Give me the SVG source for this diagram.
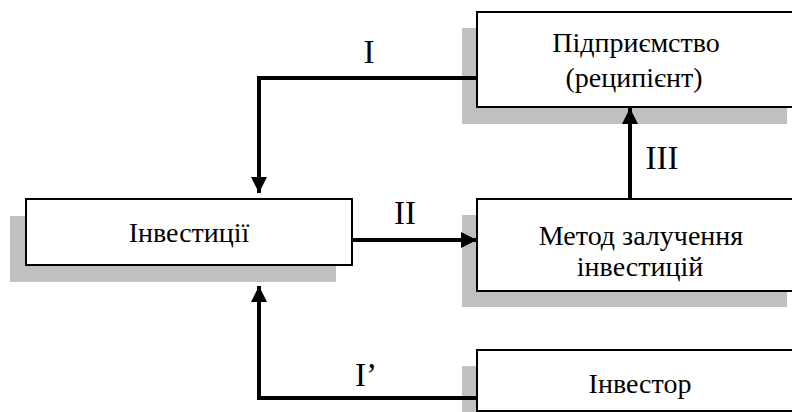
<svg xmlns="http://www.w3.org/2000/svg" width="792" height="412" viewBox="0 0 792 412">
  <defs>
    <style>
      .shadow { fill: #c0c0c0; }
      .box { fill: #ffffff; stroke: #000000; stroke-width: 2; }
      .conn { fill: none; stroke: #000000; stroke-width: 4; }
    </style>
    <marker id="arrow" viewBox="0 0 16 16" refX="16" refY="8" markerWidth="16" markerHeight="16" markerUnits="userSpaceOnUse" orient="auto">
      <path d="M0,0 L16,8 L0,16 Z" fill="#000000"/>
    </marker>
  </defs>
  <rect width="792" height="412" fill="#ffffff"/>

  <!-- Drop shadows behind the boxes -->
  <rect class="shadow" x="10" y="216" width="326" height="66"/>
  <rect class="shadow" x="462" y="28" width="325" height="96"/>
  <rect class="shadow" x="462" y="215" width="325" height="92"/>
  <rect class="shadow" x="462" y="366" width="325" height="50"/>

  <!-- Box captions stay at 28px, where the serif Cyrillic face is used -->
  <g font-family="'Liberation Serif', serif" font-size="28" fill="#000000" text-anchor="middle">
    <g id="connectors">
      <polyline class="conn" points="477,78 259,78 259,193" marker-end="url(#arrow)"/>
      <line class="conn" x1="352" y1="240" x2="477" y2="240" marker-end="url(#arrow)"/>
      <line class="conn" x1="630" y1="199" x2="630" y2="108" marker-end="url(#arrow)"/>
      <polyline class="conn" points="477,398 259,398 259,286" marker-end="url(#arrow)"/>
      <text x="369" y="63" font-size="33">I</text>
      <text x="405" y="224" font-size="33">II</text>
      <text x="662" y="169" font-size="33">III</text>
      <text x="366" y="386" font-size="33">I’</text>
    </g>

    <g id="investments">
      <rect class="box" x="26" y="199" width="326" height="66"/>
      <text x="189" y="242">Інвестиції</text>
    </g>

    <g id="enterprise">
      <rect class="box" x="477" y="12" width="326" height="95"/>
      <text x="636" y="52">Підприємство</text>
      <text x="634" y="87">(реципієнт)</text>
    </g>

    <g id="method">
      <rect class="box" x="477" y="199" width="326" height="92"/>
      <text x="641" y="245">Метод залучення</text>
      <text x="640" y="276">інвестицій</text>
    </g>

    <g id="investor">
      <rect class="box" x="477" y="350" width="326" height="61"/>
      <text x="640" y="393">Інвестор</text>
    </g>
  </g>
</svg>
